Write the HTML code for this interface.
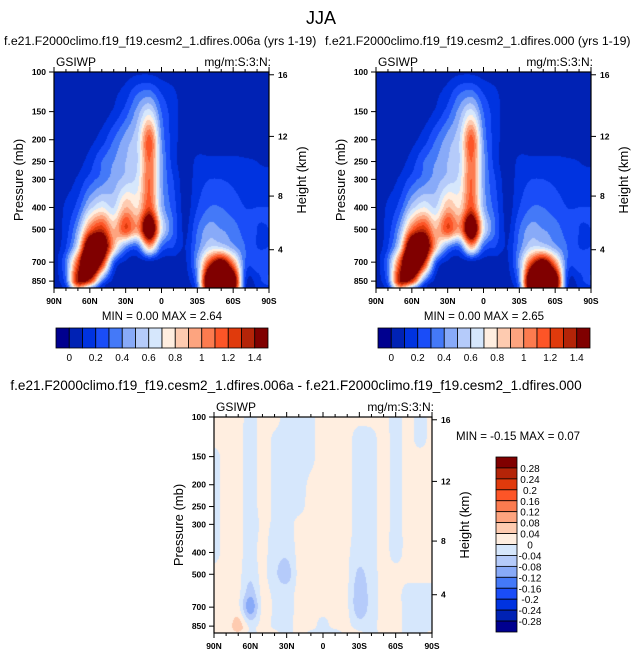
<!DOCTYPE html>
<html><head><meta charset="utf-8">
<style>
html,body{margin:0;padding:0;background:#fff;}
#root{position:relative;width:643px;height:658px;overflow:hidden;font-family:"Liberation Sans",sans-serif;}
canvas{position:absolute;}
svg{position:absolute;left:0;top:0;}
</style></head>
<body>
<div id="root">
<canvas id="c1" width="215" height="216" style="left:54px;top:72px"></canvas>
<canvas id="c2" width="215" height="216" style="left:376px;top:72px"></canvas>
<canvas id="c3" width="218" height="216" style="left:214px;top:417px"></canvas>
<svg id="ov" width="643" height="658"></svg>
</div>
<script>
// ---- data ----
const lats = [90,80,70,60,50,40,30,20,10,0,-10,-20,-30,-40,-50,-60,-70,-80,-90];
const levels = [100,125,150,200,250,300,400,500,600,700,850,925];
const colors = ["#00008f","#0022b4","#0033e0","#1a4df8","#4479f8","#88aaf8","#b5cbfa","#d6e7fc","#ffeee0","#fecbb0","#fda47f","#fc7b4f","#fd5527","#e03a0c","#b42408","#800000"];
const meanLevels = [0,0.1,0.2,0.3,0.4,0.5,0.6,0.7,0.8,0.9,1.0,1.1,1.2,1.3,1.4];
const meanTickLabels = ["0","0.2","0.4","0.6","0.8","1","1.2","1.4"];
const diffLevels = [-0.28,-0.24,-0.2,-0.16,-0.12,-0.08,-0.04,0,0.04,0.08,0.12,0.16,0.2,0.24,0.28];
const diffTickLabels = ["0.28","0.24","0.2","0.16","0.12","0.08","0.04","0","-0.04","-0.08","-0.12","-0.16","-0.2","-0.24","-0.28"];
const latTickLabels = ["90N","60N","30N","0","30S","60S","90S"];
const presTicks = [100,150,200,250,300,400,500,700,850];
const heightTicks = [16,12,8,4];
const field006a = [
[0.05,0.05,0.05,0.05,0.05,0.05,0.06,0.08,0.08,0.06,0.05,0.05,0.05,0.05,0.05,0.05,0.05,0.05,0.05],
[0.05,0.05,0.05,0.05,0.05,0.08,0.15,0.3,0.35,0.2,0.12,0.05,0.05,0.05,0.05,0.05,0.05,0.05,0.05],
[0.05,0.05,0.05,0.05,0.05,0.12,0.25,0.45,0.65,0.3,0.15,0.05,0.05,0.05,0.05,0.05,0.05,0.05,0.05],
[0.05,0.05,0.05,0.07,0.15,0.3,0.45,0.6,1.15,0.4,0.15,0.05,0.05,0.05,0.05,0.05,0.05,0.05,0.05],
[0.05,0.05,0.06,0.15,0.3,0.4,0.5,0.6,1.1,0.45,0.15,0.05,0.12,0.12,0.12,0.12,0.11,0.1,0.08],
[0.05,0.05,0.12,0.25,0.35,0.45,0.55,0.65,1.1,0.45,0.2,0.05,0.15,0.2,0.2,0.18,0.15,0.12,0.15],
[0.05,0.12,0.25,0.55,0.7,0.6,0.9,0.8,1.2,0.5,0.25,0.06,0.2,0.3,0.3,0.25,0.2,0.2,0.2],
[0.05,0.15,0.45,1.1,1.3,0.9,1.2,1.0,1.8,0.7,0.3,0.08,0.3,0.45,0.4,0.35,0.25,0.2,0.2],
[0.05,0.2,0.7,1.9,1.8,0.9,0.4,0.3,0.9,0.3,0.2,0.1,0.35,0.6,0.6,0.45,0.3,0.2,0.2],
[0.05,0.35,1.2,2.2,1.4,0.3,0.08,0.05,0.06,0.05,0.05,0.08,0.45,1.2,1.6,1.0,0.3,0.25,0.25],
[0.05,0.3,1.4,1.3,0.4,0.06,0.05,0.05,0.05,0.05,0.05,0.05,0.4,2.0,2.6,1.8,0.2,0.15,0.3],
[0.05,0.15,0.8,0.4,0.1,0.05,0.05,0.05,0.05,0.05,0.05,0.05,0.3,1.8,2.2,1.6,0.15,0.1,0.1]
];
const field000 = field006a.map(r=>r.slice());
const fieldDiff = [
[0.01,0.01,0.01,-0.01,0.01,0.01,-0.01,-0.01,-0.005,0.01,0.01,0.01,0.01,0.01,0.01,-0.01,0.01,-0.01,0.01],
[0.01,0.01,0.01,-0.015,0.01,-0.005,-0.015,-0.01,-0.005,0.01,0.01,0.01,-0.015,-0.01,0.01,-0.01,0.01,-0.01,0.01],
[-0.01,0.01,0.01,-0.015,0.01,-0.005,-0.015,-0.01,-0.005,0.01,0.01,0.01,-0.015,-0.01,0.01,-0.01,0.01,0.01,0.01],
[-0.01,0.01,0.01,-0.015,0.01,-0.005,-0.015,-0.01,0.005,0.01,0.01,0.01,-0.015,-0.01,0.01,-0.01,0.01,0.01,0.01],
[-0.01,0.01,0.01,-0.015,0.01,-0.005,-0.015,-0.01,0.01,0.01,0.01,0.01,-0.015,-0.01,0.01,-0.01,0.01,0.01,0.01],
[-0.01,0.01,0.01,-0.015,0.005,-0.005,-0.015,0.01,0.01,0.01,0.01,0.01,-0.015,-0.01,0.01,-0.01,0.01,0.01,0.01],
[-0.01,0.01,0.01,-0.015,0.01,-0.02,-0.03,0.01,0.01,0.01,0.01,0.005,-0.02,-0.01,0.01,-0.01,0.01,0.01,0.01],
[0.01,0.01,0.01,-0.03,0.01,-0.03,-0.06,0.01,0.01,0.01,0.01,0.005,-0.05,-0.015,0.01,0.01,0.01,0.01,0.01],
[0.01,0.01,0.01,-0.06,0.01,-0.01,-0.02,0.01,0.01,0.01,0.01,0.005,-0.07,-0.02,0.01,0.01,-0.01,-0.01,-0.01],
[0.01,0.01,0.01,-0.11,0.01,-0.005,-0.015,0.01,0.01,0.01,0.01,0.005,-0.07,-0.02,0.01,0.01,-0.01,-0.01,-0.01],
[0.01,0.01,0.06,-0.01,0.01,-0.005,-0.01,0.01,0.01,-0.01,0.01,0.01,-0.02,-0.01,0.01,0.01,-0.01,-0.01,-0.01],
[0.01,0.01,0.03,-0.01,0.01,0.01,-0.01,0.01,-0.01,-0.01,-0.02,0.01,0.01,-0.01,0.01,0.01,-0.01,-0.01,0.01]
];
// ---- helpers ----
const PMAX=912;
const lpTop=Math.log(100), lpBot=Math.log(PMAX);
function yOfP(p,y0,H){return y0+H*(Math.log(p)-lpTop)/(lpBot-lpTop);}
function xOfLat(lat,x0,W){return x0+W*(90-lat)/180;}
function pOfZ(zkm){const z=zkm*1000; if(z<=11000) return 1013.25*Math.pow(1-2.25577e-5*z,5.25588); return 226.32*Math.exp(-(z-11000)/6341.6);}
const lpl=levels.map(Math.log);
function cr(p0,p1,p2,p3,t){return 0.5*((2*p1)+(-p0+p2)*t+(2*p0-5*p1+4*p2-p3)*t*t+(-p0+3*p1-3*p2+p3)*t*t*t);}
function sample(F,u,v){
  const nr=F.length,nc=F[0].length;
  const cl=(a,n)=>Math.max(0,Math.min(n-1,a));
  const i=Math.floor(v),j=Math.floor(u),tv=v-i,tu=u-j;
  const rows=[];
  for(let k=-1;k<=2;k++){const r=F[cl(i+k,nr)];
    rows.push(cr(r[cl(j-1,nc)],r[cl(j,nc)],r[cl(j+1,nc)],r[cl(j+2,nc)],tu));}
  return cr(rows[0],rows[1],rows[2],rows[3],tv);
}
function hex(c){return [parseInt(c.slice(1,3),16),parseInt(c.slice(3,5),16),parseInt(c.slice(5,7),16)];}
const rgb=colors.map(hex);
function drawField(id,F,lev,minV){
  const cv=document.getElementById(id),ctx=cv.getContext('2d');
  const W=cv.width,H=cv.height,img=ctx.createImageData(W,H);
  for(let y=0;y<H;y++){
    const lp=lpTop+(lpBot-lpTop)*(y+0.5)/H;
    let i=0; while(i<lpl.length-2&&lp>lpl[i+1]) i++;
    let v=i+(lp-lpl[i])/(lpl[i+1]-lpl[i]); v=Math.max(0,Math.min(lpl.length-1,v));
    for(let x=0;x<W;x++){
      const lat=90-180*(x+0.5)/W;
      const u=(90-lat)/10;
      let val=sample(F,u,v);
      if(minV!==undefined) val=Math.max(minV,val);
      let k=0; while(k<lev.length&&val>=lev[k]) k++;
      const c=rgb[k],o=(y*W+x)*4;
      img.data[o]=c[0];img.data[o+1]=c[1];img.data[o+2]=c[2];img.data[o+3]=255;
    }
  }
  ctx.putImageData(img,0,0);
}
drawField('c1',field006a,meanLevels,0.01);
drawField('c2',field000,meanLevels,0.01);
drawField('c3',fieldDiff,diffLevels);

const svg=document.getElementById('ov'),NS='http://www.w3.org/2000/svg';
function el(tag,attrs,parent){const e=document.createElementNS(NS,tag);for(const k in attrs)e.setAttribute(k,attrs[k]);(parent||svg).appendChild(e);return e;}
function txt(s,x,y,size,anchor,extra){const t=el('text',Object.assign({x:x,y:y,'font-size':size,'text-anchor':anchor||'start','font-family':'Liberation Sans, sans-serif',fill:'#000'},extra||{}));t.textContent=s;return t;}

function panel(x0,y0,W,H,title,titleX,titleAnchor,titleSize,minmax,mmx,mmy,prefix){
  const g=el('g',{});
  
  
  el('rect',{x:x0,y:y0,width:W,height:H,fill:'none',stroke:'#000','stroke-width':1.2},g);
  for(let lat=90;lat>=-90;lat-=10){
    const x=xOfLat(lat,x0,W),len=(lat%30===0)?5:3;
    el('line',{x1:x,x2:x,y1:y0,y2:y0-len,stroke:'#000','stroke-width':1},g);
    el('line',{x1:x,x2:x,y1:y0+H,y2:y0+H+len,stroke:'#000','stroke-width':1},g);
  }
  latTickLabels.forEach((s,i)=>{const t=txt(s,xOfLat(90-30*i,x0,W),y0+H+16,8.5,'middle',{'font-weight':'bold'});
    });
  presTicks.forEach(p=>{const y=yOfP(p,y0,H);
    el('line',{x1:x0,x2:x0-5,y1:y,y2:y,stroke:'#000','stroke-width':1},g);
    const t=txt(String(p),x0-8,y+3,8.5,'end',{'font-weight':'bold'});
    });
  heightTicks.forEach(z=>{const y=yOfP(pOfZ(z),y0,H);
    el('line',{x1:x0+W,x2:x0+W+5,y1:y,y2:y,stroke:'#000','stroke-width':1},g);
    const t=txt(String(z),x0+W+9,y+3,8.5,'start',{'font-weight':'bold'});
    });
  const yl=txt('Pressure (mb)',0,0,13,'middle',{transform:`translate(${x0-31},${y0+H/2}) rotate(-90)`});
  
  const yr=txt('Height (km)',0,0,13,'middle',{transform:`translate(${x0+W+37},${y0+H/2}) rotate(-90)`});
  
  const a=txt('GSIWP',x0+2,y0-6,12,'start');
  const b=txt('mg/m:S:3:N:',x0+W+2,y0-6,12,'end');
  const t=txt(title,titleX,y0-27,titleSize,titleAnchor);
  const m=txt(minmax,mmx,mmy,11.5,'middle',{'xml:space':'preserve'});
}
const jt=txt('JJA',321,24,18,'middle');

panel(54,72,215,216,'f.e21.F2000climo.f19_f19.cesm2_1.dfires.006a (yrs 1-19)',4,'start',12.3,'MIN =  0.00  MAX =  2.64',162,320,'left');
panel(376,72,215,216,'f.e21.F2000climo.f19_f19.cesm2_1.dfires.000 (yrs 1-19)',325,'start',12.3,'MIN =  0.00  MAX =  2.65',484,320,'right');
panel(214,417,218,216,'f.e21.F2000climo.f19_f19.cesm2_1.dfires.006a - f.e21.F2000climo.f19_f19.cesm2_1.dfires.000',296,'middle',13.6,'MIN = -0.15  MAX =  0.07',518,440,'diff');

function hbar(x0,y0,W,H,name){
  const g=el('g',{});
  
  
  const bw=W/colors.length;
  colors.forEach((c,i)=>el('rect',{x:x0+i*bw,y:y0,width:bw,height:H,fill:c,stroke:'#000','stroke-width':0.8},g));
  meanTickLabels.forEach((s,i)=>{const t=txt(s,x0+(1+2*i)*bw,y0+H+13,10,'middle');
    });
}
hbar(56,328,212,20,'colorbar-006a');
hbar(378,328,212,20,'colorbar-000');
(function(){
  const x0=496,y0=457,W=21,H=175,g=el('g',{});
  
  
  const bh=H/colors.length;
  colors.slice().reverse().forEach((c,i)=>el('rect',{x:x0,y:y0+i*bh,width:W,height:bh,fill:c,stroke:'#000','stroke-width':0.8},g));
  diffTickLabels.forEach((s,i)=>{const t=txt(s,x0+W+13,y0+(i+1)*bh+4,10,'middle');
    });
})();
</script>
</body></html>
